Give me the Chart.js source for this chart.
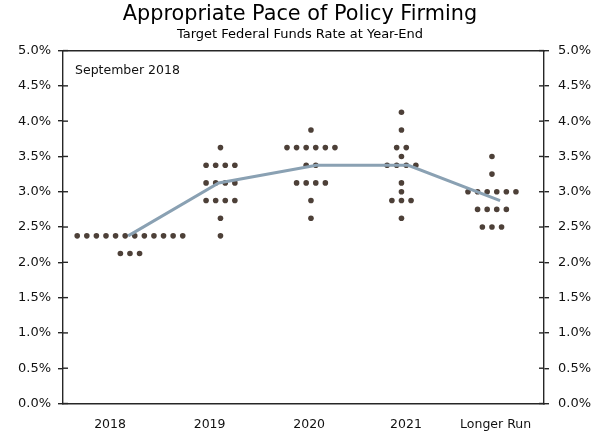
<!DOCTYPE html>
<html>
<head>
<meta charset="utf-8">
<script src="https://cdn.jsdelivr.net/npm/chart.js@4.4.1/dist/chart.umd.min.js"></script>
<style>
  html, body { margin: 0; padding: 0; background: #fff; }
  #wrap { width: 600px; height: 442px; }
</style>
</head>
<body>
<div id="wrap"><canvas id="dotplot"></canvas></div>
<script>
(function() {
    'use strict';

    // projections, one entry per participant
    var categories = ['2018', '2019', '2020', '2021', 'Longer Run'];
    var dots2018 = [2.375, 2.375, 2.375, 2.375, 2.375, 2.375, 2.375, 2.375, 2.375, 2.375, 2.375, 2.375,
                    2.125, 2.125, 2.125];
    var dots2019 = [3.625, 3.375, 3.375, 3.375, 3.375, 3.125, 3.125, 3.125, 3.125,
                    2.875, 2.875, 2.875, 2.875, 2.625, 2.375];
    var dots2020 = [3.875, 3.625, 3.625, 3.625, 3.625, 3.625, 3.625, 3.375, 3.375,
                    3.125, 3.125, 3.125, 3.125, 2.875, 2.625];
    var dots2021 = [4.125, 3.875, 3.625, 3.625, 3.5, 3.375, 3.375, 3.375, 3.375,
                    3.125, 3.0, 2.875, 2.875, 2.875, 2.625];
    var dotsLonger = [3.5, 3.25, 3.0, 3.0, 3.0, 3.0, 3.0, 3.0, 2.75, 2.75, 2.75, 2.75, 2.5, 2.5, 2.5];
    var medians = [2.375, 3.125, 3.375, 3.375, 2.875];
    var yTicks = [0, 0.5, 1, 1.5, 2, 2.5, 3, 3.5, 4, 4.5, 5];

    var allDots = [dots2018, dots2019, dots2020, dots2021, dotsLonger];

    var DOT_GAP = 0.106;                          // spacing between dots in a row, x units
    var LABEL_SHIFT = [-0.22, -0.12, -0.02, 0.05, 0.04];
    var LINE_SHIFT = [-0.02, -0.02, 0.06, 0.075, 0.09];
    var FONT = '"DejaVu Sans", Verdana, sans-serif';
    var AXIS_COLOR = '#262626';

    // spread equal values side by side around the category centre
    function spread(values, idx) {
        var groups = {};
        values.forEach(function(v) { groups[v] = (groups[v] || 0) + 1; });
        var pts = [];
        Object.keys(groups).forEach(function(key) {
            var n = groups[key];
            for (var j = 0; j < n; j++) {
                pts.push({ x: idx + (j - (n - 1) / 2) * DOT_GAP, y: parseFloat(key) });
            }
        });
        return pts;
    }

    var dotPoints = [];
    allDots.forEach(function(list, i) { dotPoints = dotPoints.concat(spread(list, i)); });

    var medianPoints = medians.map(function(v, i) { return { x: i + LINE_SHIFT[i], y: v }; });

    var pct = function(v) { return v.toFixed(1) + '%'; };

    // inner half of the y tick marks and the panel note
    var frame = {
        id: 'panelFrame',
        afterDraw: function(chart) {
            var ctx = chart.ctx, a = chart.chartArea;
            var yl = chart.scales.y;
            ctx.save();
            ctx.strokeStyle = AXIS_COLOR;
            ctx.lineWidth = 1.4;
            yTicks.forEach(function(t) {
                var py = yl.getPixelForValue(t);
                ctx.beginPath();
                ctx.moveTo(a.left, py);
                ctx.lineTo(a.left + 5, py);
                ctx.stroke();
                ctx.beginPath();
                ctx.moveTo(a.right, py);
                ctx.lineTo(a.right - 5, py);
                ctx.stroke();
            });
            ctx.fillStyle = '#111';
            ctx.font = '12.5px ' + FONT;
            ctx.textBaseline = 'middle';
            ctx.textAlign = 'left';
            ctx.fillText('September 2018', a.left + 12, a.top + 20);
            ctx.restore();
        }
    };

    var yAxis = function(pos, width, pad) {
        return {
            type: 'linear',
            position: pos,
            min: 0,
            max: 5,
            afterBuildTicks: function(s) { s.ticks = yTicks.map(function(v) { return { value: v }; }); },
            afterFit: function(s) { s.width = width; },
            grid: { drawOnChartArea: false, tickLength: 5, color: AXIS_COLOR, lineWidth: 1.4 },
            border: { color: AXIS_COLOR, width: 1.4 },
            ticks: {
                padding: pad,
                color: '#111',
                font: { family: FONT, size: 13 },
                callback: pct
            }
        };
    };

    new Chart(document.getElementById('dotplot'), {
        type: 'scatter',
        data: {
            datasets: [{
                type: 'line',
                label: 'Median',
                data: medianPoints,
                borderColor: '#8aa1b3',
                borderWidth: 3,
                pointRadius: 0,
                tension: 0,
                order: 0
            }, {
                label: 'Participants',
                data: dotPoints,
                backgroundColor: '#4d4038',
                borderWidth: 0,
                pointRadius: 2.8,
                order: 1
            }]
        },
        options: {
            responsive: true,
            maintainAspectRatio: false,
            animation: false,
            layout: { padding: 0 },
            plugins: {
                legend: { display: false },
                tooltip: { enabled: false },
                title: {
                    display: true,
                    text: 'Appropriate Pace of Policy Firming',
                    color: '#000',
                    font: { family: FONT, size: 20.8, weight: 'normal' },
                    padding: { top: 2, bottom: 0 }
                },
                subtitle: {
                    display: true,
                    text: 'Target Federal Funds Rate at Year-End',
                    color: '#000',
                    font: { family: FONT, size: 13, weight: 'normal' },
                    padding: { top: 0, bottom: 8 }
                }
            },
            scales: {
                x: {
                    type: 'linear',
                    min: -0.74,
                    max: 4.575,
                    afterBuildTicks: function(s) {
                        s.ticks = categories.map(function(c, i) { return { value: i + LABEL_SHIFT[i] }; });
                    },
                    afterFit: function(s) { s.height = 38.5; },
                    grid: { display: false, drawTicks: false },
                    border: { color: AXIS_COLOR, width: 1.4 },
                    ticks: {
                        autoSkip: false,
                        maxRotation: 0,
                        padding: 14,
                        color: '#111',
                        font: { family: FONT, size: 12.5 },
                        callback: function(v, i) { return categories[i]; }
                    }
                },
                xTop: {
                    type: 'linear',
                    position: 'top',
                    min: -0.74,
                    max: 4.575,
                    afterFit: function(s) { s.height = 0; },
                    grid: { display: false, drawTicks: false },
                    border: { display: true, color: AXIS_COLOR, width: 1.4 },
                    ticks: { display: false }
                },
                y: yAxis('left', 63, 7),
                y2: yAxis('right', 56, 9)
            }
        },
        plugins: [frame]
    });
})();
</script>
</body>
</html>
